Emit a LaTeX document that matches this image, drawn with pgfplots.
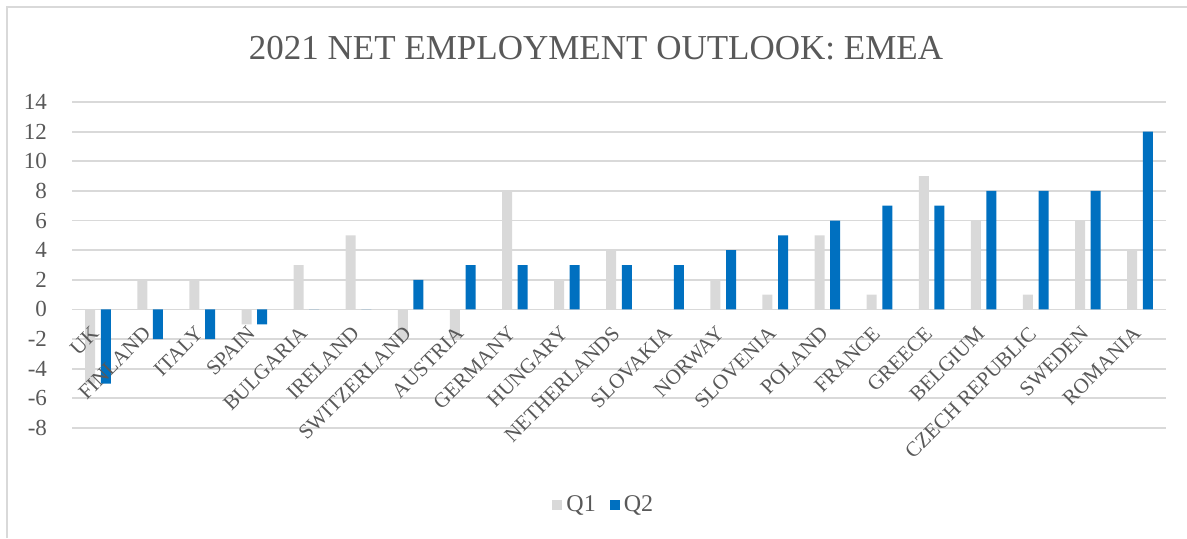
\documentclass[border=0pt]{standalone}
\usepackage{fontspec}
\setmainfont{Liberation Serif}
\usepackage{pgfplots}
\usepackage{pgfplotstable}
\pgfplotsset{compat=1.18}
\definecolor{qone}{RGB}{217,217,217}
\definecolor{qtwo}{RGB}{0,112,192}
\definecolor{gridc}{RGB}{217,217,217}
\definecolor{txt}{RGB}{89,89,89}
\pgfplotstableread{
x Q1 Q2
0 -5 -5
1 2 -2
2 2 -2
3 -1 -1
4 3 0
5 5 0
6 -2 2
7 -2 3
8 8 3
9 2 3
10 4 3
11 0 3
12 2 4
13 1 5
14 5 6
15 1 7
16 9 7
17 6 8
18 1 8
19 6 8
20 4 12
}\datatable
\pgfplotsset{base/.style={
  at={(36pt,55pt)}, anchor=south west,
  scale only axis, width=547pt, height=163pt,
  xmin=-0.5, xmax=20.5, ymin=-8, ymax=14,
  ytick={-8,-6,...,14},
  xtick={0,...,20},
  axis line style={draw=none},
  major tick length=0pt,
  clip=false,
}}
\begin{document}
\begin{tikzpicture}
\useasboundingbox (0,0) rectangle (593.5pt,269pt);
\draw[gridc, line width=0.6pt] (3.5pt,0) -- (3.5pt,265.5pt) -- (593.5pt,265.5pt);
\node[txt, font=\fontsize{17.5}{20}\selectfont] at (298pt,245pt) {2021 NET EMPLOYMENT OUTLOOK: EMEA};
% bars and grid
\begin{axis}[
  base,
  xticklabels={}, yticklabels={},
  ymajorgrids, grid style={gridc, line width=0.9pt},
  ybar, bar width=5pt,
  legend style={at={(axis description cs:0.487,-0.236)}, anchor=center, draw=none, legend columns=2, font=\fontsize{12}{14}\selectfont, text=txt, /tikz/every even column/.append style={column sep=5pt}},
  legend image code/.code={\fill[#1] (0pt,-2.5pt) rectangle (5pt,2.5pt);},
]
\addplot[fill=qone, draw=none, bar shift=-3.9pt] table[x=x, y=Q1] {\datatable};
\addplot[fill=qtwo, draw=none, bar shift=3.9pt] table[x=x, y=Q2] {\datatable};
\legend{Q1,Q2}
\end{axis}
% tick labels drawn over the bars
\begin{axis}[
  base,
  xticklabels={UK,FINLAND,ITALY,SPAIN,BULGARIA,IRELAND,SWITZERLAND,AUSTRIA,GERMANY,HUNGARY,NETHERLANDS,SLOVAKIA,NORWAY,SLOVENIA,POLAND,FRANCE,GREECE,BELGIUM,CZECH REPUBLIC,SWEDEN,ROMANIA},
  /pgf/number format/assume math mode=true,
  yticklabel style={txt, font=\fontsize{11.5}{13}\selectfont, xshift=-9pt},
  xticklabel style={txt, font=\fontsize{10.5}{12}\selectfont, xshift=-4pt, yshift=53pt, rotate=45, anchor=north east, inner sep=1pt},
]
\end{axis}
\end{tikzpicture}
\end{document}
